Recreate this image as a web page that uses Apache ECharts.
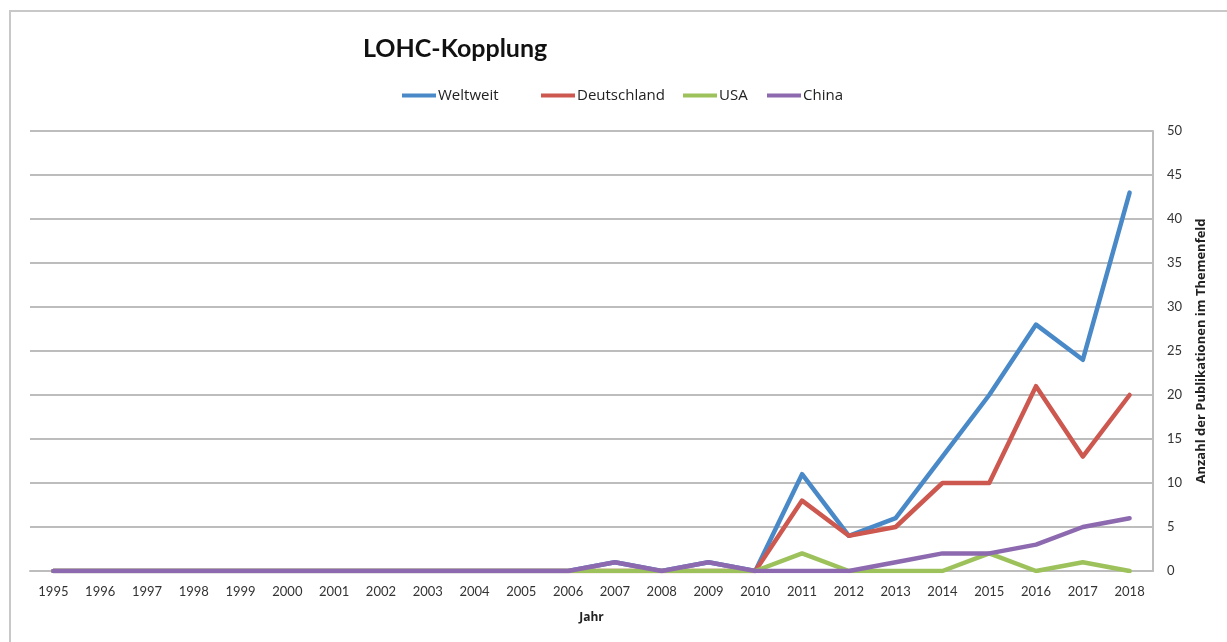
<!DOCTYPE html>
<html>
<head>
<meta charset="utf-8">
<script src="https://cdn.jsdelivr.net/npm/echarts@6/dist/echarts.min.js"></script>
<style>
  html, body { margin: 0; padding: 0; background: #fff; }
  #chart { width: 1227px; height: 642px; }
</style>
</head>
<body>
<div id="chart"></div>
<script>
// Publications per year on LOHC coupling
const years = ['1995','1996','1997','1998','1999','2000','2001','2002','2003','2004','2005','2006',
               '2007','2008','2009','2010','2011','2012','2013','2014','2015','2016','2017','2018'];
const weltweit    = [0,0,0,0,0,0,0,0,0,0,0,0, 1,0,1,0, 11,4,6,13,20,28,24,43];
const deutschland = [0,0,0,0,0,0,0,0,0,0,0,0, 0,0,0,0,  8,4,5,10,10,21,13,20];
const usa         = [0,0,0,0,0,0,0,0,0,0,0,0, 0,0,0,0,  2,0,0,0,2,0,1,0];
const china       = [0,0,0,0,0,0,0,0,0,0,0,0, 1,0,1,0,  0,0,1,2,2,3,5,6];
const yTicks = [0, 5, 10, 15, 20, 25, 30, 35, 40, 45, 50];

const seriesDefs = [
  { name: 'Weltweit',    data: weltweit,    color: '#4A89C8', legendLeft: 402 },
  { name: 'Deutschland', data: deutschland, color: '#CC5850', legendLeft: 541 },
  { name: 'USA',         data: usa,         color: '#9DC25B', legendLeft: 683 },
  { name: 'China',       data: china,       color: '#8D6AAF', legendLeft: 767 }
];

const font = 'Lato, "Open Sans", "DejaVu Sans", sans-serif';
const wideFont = '"Open Sans", Lato, "DejaVu Sans", sans-serif';

const chart = echarts.init(document.getElementById('chart'), null, { renderer: 'canvas' });

chart.setOption({
  animation: false,
  backgroundColor: '#fff',
  textStyle: { fontFamily: font },
  title: {
    text: 'LOHC-Kopplung',
    left: 358,
    top: 31,
    textStyle: { fontFamily: font, fontSize: 25, fontWeight: 'bold', color: '#111' }
  },
  legend: seriesDefs.map(s => ({
    data: [s.name],
    left: s.legendLeft,
    top: 88,
    padding: 0,
    icon: 'rect',
    itemWidth: 34,
    itemHeight: 4,
    selectedMode: false,
    textStyle: { fontFamily: wideFont, fontSize: 15, color: '#222', padding: [0, 0, 0, -3] }
  })),
  graphic: [{
    type: 'rect',
    shape: { x: 10, y: 11, width: 1400, height: 800 },
    style: { fill: 'none', stroke: '#c8c8c8', lineWidth: 2 },
    silent: true,
    z: -1
  }],
  grid: { left: 30, right: 74, top: 131, bottom: 71, show: false },
  xAxis: {
    type: 'category',
    data: years,
    boundaryGap: true,
    name: 'Jahr',
    nameLocation: 'middle',
    nameGap: 41,
    nameTextStyle: { fontFamily: wideFont, fontSize: 12, fontWeight: 'bold', color: '#222' },
    axisLine: { lineStyle: { color: '#bdbdbd', width: 2 } },
    axisTick: { show: false },
    axisLabel: { fontFamily: font, fontSize: 13, color: '#333', margin: 14 }
  },
  yAxis: {
    type: 'value',
    position: 'right',
    min: 0,
    max: 50,
    interval: 5,
    name: 'Anzahl der Publikationen im Themenfeld',
    nameLocation: 'middle',
    nameRotate: 90,
    nameGap: 42,
    nameTextStyle: { fontFamily: wideFont, fontSize: 13, fontWeight: 'bold', color: '#222' },
    axisLine: { show: true, lineStyle: { color: '#bdbdbd', width: 2 } },
    axisTick: { show: false },
    axisLabel: {
      fontFamily: font, fontSize: 13, color: '#333', margin: 14,
      formatter: v => (yTicks.includes(v) ? String(v) : '')
    },
    splitLine: { show: true, lineStyle: { color: '#bdbdbd', width: 2 } }
  },
  series: seriesDefs.map(s => ({
    name: s.name,
    type: 'line',
    data: s.data,
    symbol: 'none',
    color: s.color,
    lineStyle: { width: 4.5, color: s.color, join: 'round', cap: 'round' },
    itemStyle: { color: s.color }
  }))
});
</script>
</body>
</html>
